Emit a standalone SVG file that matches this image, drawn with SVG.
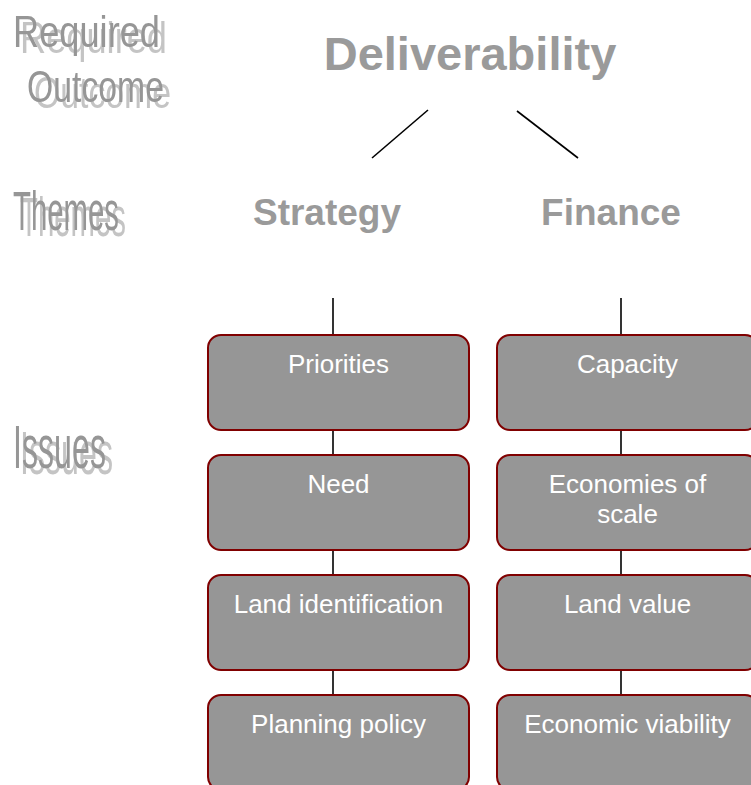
<svg xmlns="http://www.w3.org/2000/svg" width="751" height="785" viewBox="0 0 751 785">
<defs>
<filter id="shadow" x="-10%" y="-20%" width="130%" height="150%">
  <feFlood flood-color="#c4c4c4" result="c"/>
  <feComposite in="c" in2="SourceAlpha" operator="in" result="s"/>
  <feOffset in="s" dx="7" dy="6" result="o"/>
  <feMerge><feMergeNode in="o"/><feMergeNode in="SourceGraphic"/></feMerge>
</filter>
</defs>
<style>
.lbl{font-family:"Liberation Sans",Arial,sans-serif;fill:#969696;}
.title{font-family:"Liberation Sans",Arial,sans-serif;font-weight:bold;fill:#9a9a9a;text-anchor:middle;}
.box rect{fill:#969696;stroke:#800000;stroke-width:2;}
.box text{font-family:"Liberation Sans",Arial,sans-serif;font-size:26px;fill:#ffffff;text-anchor:middle;}
.conn line{stroke:#000000;stroke-width:1.6;}
</style>
<rect width="751" height="785" fill="#ffffff"/>
<g id="level-labels" class="lbl" filter="url(#shadow)">
  <g id="label-required-outcome" font-size="45">
    <text x="13" y="47" textLength="147" lengthAdjust="spacingAndGlyphs">Required</text>
    <text x="27" y="102" textLength="137" lengthAdjust="spacingAndGlyphs">Outcome</text>
  </g>
  <g id="label-themes" font-size="56">
    <text x="13" y="230" textLength="106" lengthAdjust="spacingAndGlyphs">Themes</text>
  </g>
  <g id="label-issues" font-size="61">
    <text x="13" y="468" textLength="93" lengthAdjust="spacingAndGlyphs">Issues</text>
  </g>
</g>
<g id="connectors" class="conn">
  <line x1="428" y1="110" x2="372" y2="158"/>
  <line x1="517" y1="111" x2="578" y2="158"/>
  <line x1="333" y1="298" x2="333" y2="335"/>
  <line x1="333" y1="430" x2="333" y2="455"/>
  <line x1="333" y1="550" x2="333" y2="575"/>
  <line x1="333" y1="670" x2="333" y2="695"/>
  <line x1="621" y1="298" x2="621" y2="335"/>
  <line x1="621" y1="430" x2="621" y2="455"/>
  <line x1="621" y1="550" x2="621" y2="575"/>
  <line x1="621" y1="670" x2="621" y2="695"/>
</g>
<g id="deliverability"><text class="title" x="470" y="70" font-size="47">Deliverability</text></g>
<g id="strategy"><text class="title" x="327" y="225" font-size="37">Strategy</text></g>
<g id="finance"><text class="title" x="611" y="225" font-size="37">Finance</text></g>
<g id="priorities" class="box"><rect x="208" y="335" width="261" height="95" rx="13"/><text x="338.5" y="373">Priorities</text></g>
<g id="need" class="box"><rect x="208" y="455" width="261" height="95" rx="13"/><text x="338.5" y="493">Need</text></g>
<g id="land-identification" class="box"><rect x="208" y="575" width="261" height="95" rx="13"/><text x="338.5" y="613">Land identification</text></g>
<g id="planning-policy" class="box"><rect x="208" y="695" width="261" height="95" rx="13"/><text x="338.5" y="733">Planning policy</text></g>
<g id="capacity" class="box"><rect x="497" y="335" width="261" height="95" rx="13"/><text x="627.5" y="373">Capacity</text></g>
<g id="economies-of-scale" class="box"><rect x="497" y="455" width="261" height="95" rx="13"/><text x="627.5" y="493">Economies of</text><text x="627.5" y="523">scale</text></g>
<g id="land-value" class="box"><rect x="497" y="575" width="261" height="95" rx="13"/><text x="627.5" y="613">Land value</text></g>
<g id="economic-viability" class="box"><rect x="497" y="695" width="261" height="95" rx="13"/><text x="627.5" y="733">Economic viability</text></g>
</svg>
